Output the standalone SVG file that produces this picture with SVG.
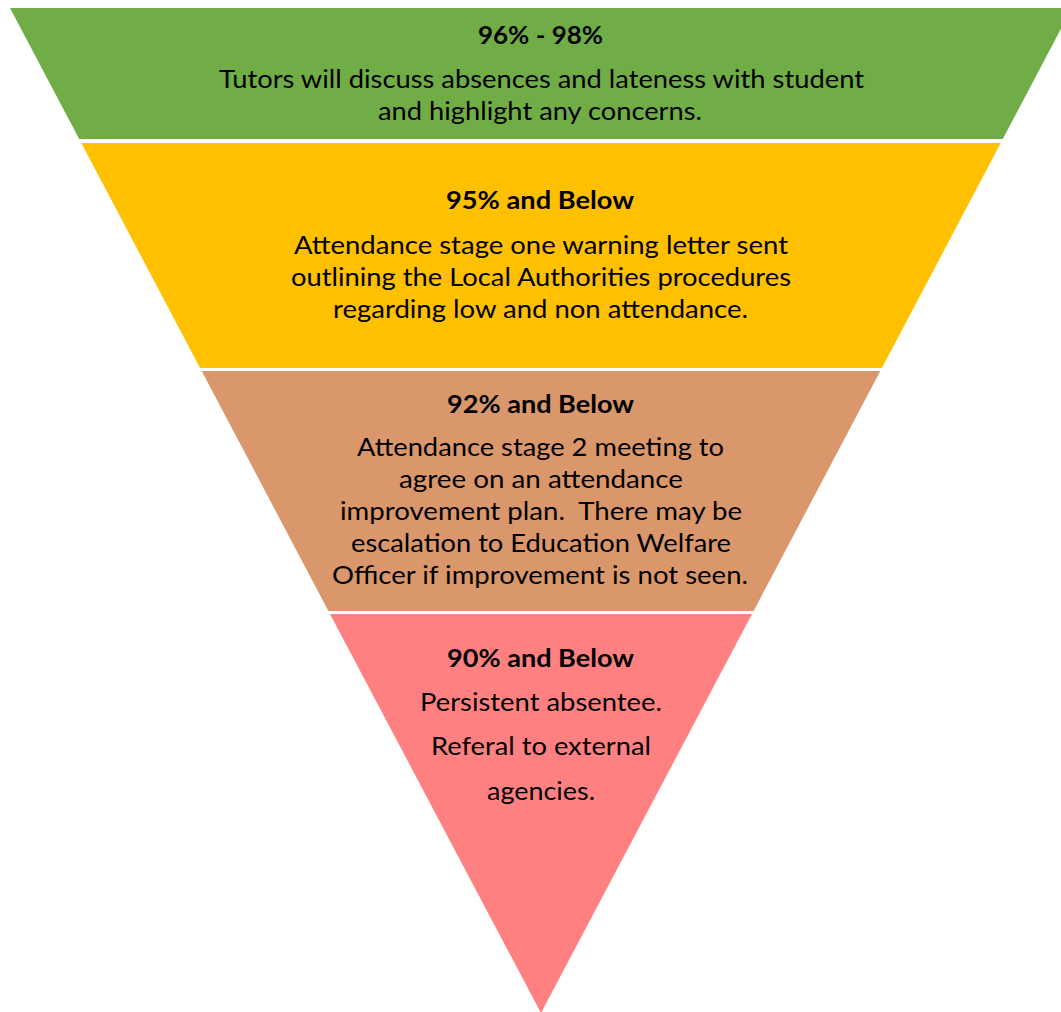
<svg xmlns="http://www.w3.org/2000/svg" width="1061" height="1012" viewBox="0 0 1061 1012">
<style>
text{font-family:Lato,"Liberation Sans",sans-serif;fill:#000;}
.h{font-weight:bold;font-size:24px;}
.b{font-size:25px;}
</style>
<rect width="1061" height="1012" fill="#fff"/>
<g id="band-green">
<polygon points="10,8 1072,8 1002.8,139 79.2,139" fill="#70AD47"/>
<text class="h" x="478" y="44" textLength="125" lengthAdjust="spacingAndGlyphs">96% - 98%</text>
<text class="b" x="219" y="88" textLength="645" lengthAdjust="spacingAndGlyphs">Tutors will discuss absences and lateness with student</text>
<text class="b" x="378" y="120" textLength="324" lengthAdjust="spacingAndGlyphs">and highlight any concerns.</text>
</g>
<g id="band-yellow">
<polygon points="81.3,143 1000.7,143 881.9,368 200.1,368" fill="#FFC000"/>
<text class="h" x="446" y="209" textLength="188" lengthAdjust="spacingAndGlyphs">95% and Below</text>
<text class="b" x="294" y="254" textLength="494" lengthAdjust="spacingAndGlyphs">Attendance stage one warning letter sent</text>
<text class="b" x="291" y="286" textLength="500" lengthAdjust="spacingAndGlyphs">outlining the Local Authorities procedures</text>
<text class="b" x="333" y="318" textLength="415" lengthAdjust="spacingAndGlyphs">regarding low and non attendance.</text>
</g>
<g id="band-brown">
<polygon points="201.7,371 880.3,371 753.6,611 328.4,611" fill="#DA976B"/>
<text class="h" x="447" y="413" textLength="187" lengthAdjust="spacingAndGlyphs">92% and Below</text>
<text class="b" x="357" y="456" textLength="367" lengthAdjust="spacingAndGlyphs">Attendance stage 2 meeting to</text>
<text class="b" x="399" y="488" textLength="284" lengthAdjust="spacingAndGlyphs">agree on an attendance</text>
<text class="b" x="340" y="520" textLength="402" lengthAdjust="spacingAndGlyphs" xml:space="preserve">improvement plan.  There may be</text>
<text class="b" x="351" y="552" textLength="380" lengthAdjust="spacingAndGlyphs">escalation to Education Welfare</text>
<text class="b" x="332" y="584" textLength="416" lengthAdjust="spacingAndGlyphs">Officer if improvement is not seen.</text>
</g>
<g id="band-pink">
<polygon points="330,614 752,614 541,1013" fill="#FF8080"/>
<text class="h" x="447" y="667" textLength="187" lengthAdjust="spacingAndGlyphs">90% and Below</text>
<text class="b" x="420" y="711" textLength="242" lengthAdjust="spacingAndGlyphs">Persistent absentee.</text>
<text class="b" x="431" y="755" textLength="220" lengthAdjust="spacingAndGlyphs">Referal to external</text>
<text class="b" x="487" y="800" textLength="108" lengthAdjust="spacingAndGlyphs">agencies.</text>
</g>
<g id="connectors"></g>
</svg>
